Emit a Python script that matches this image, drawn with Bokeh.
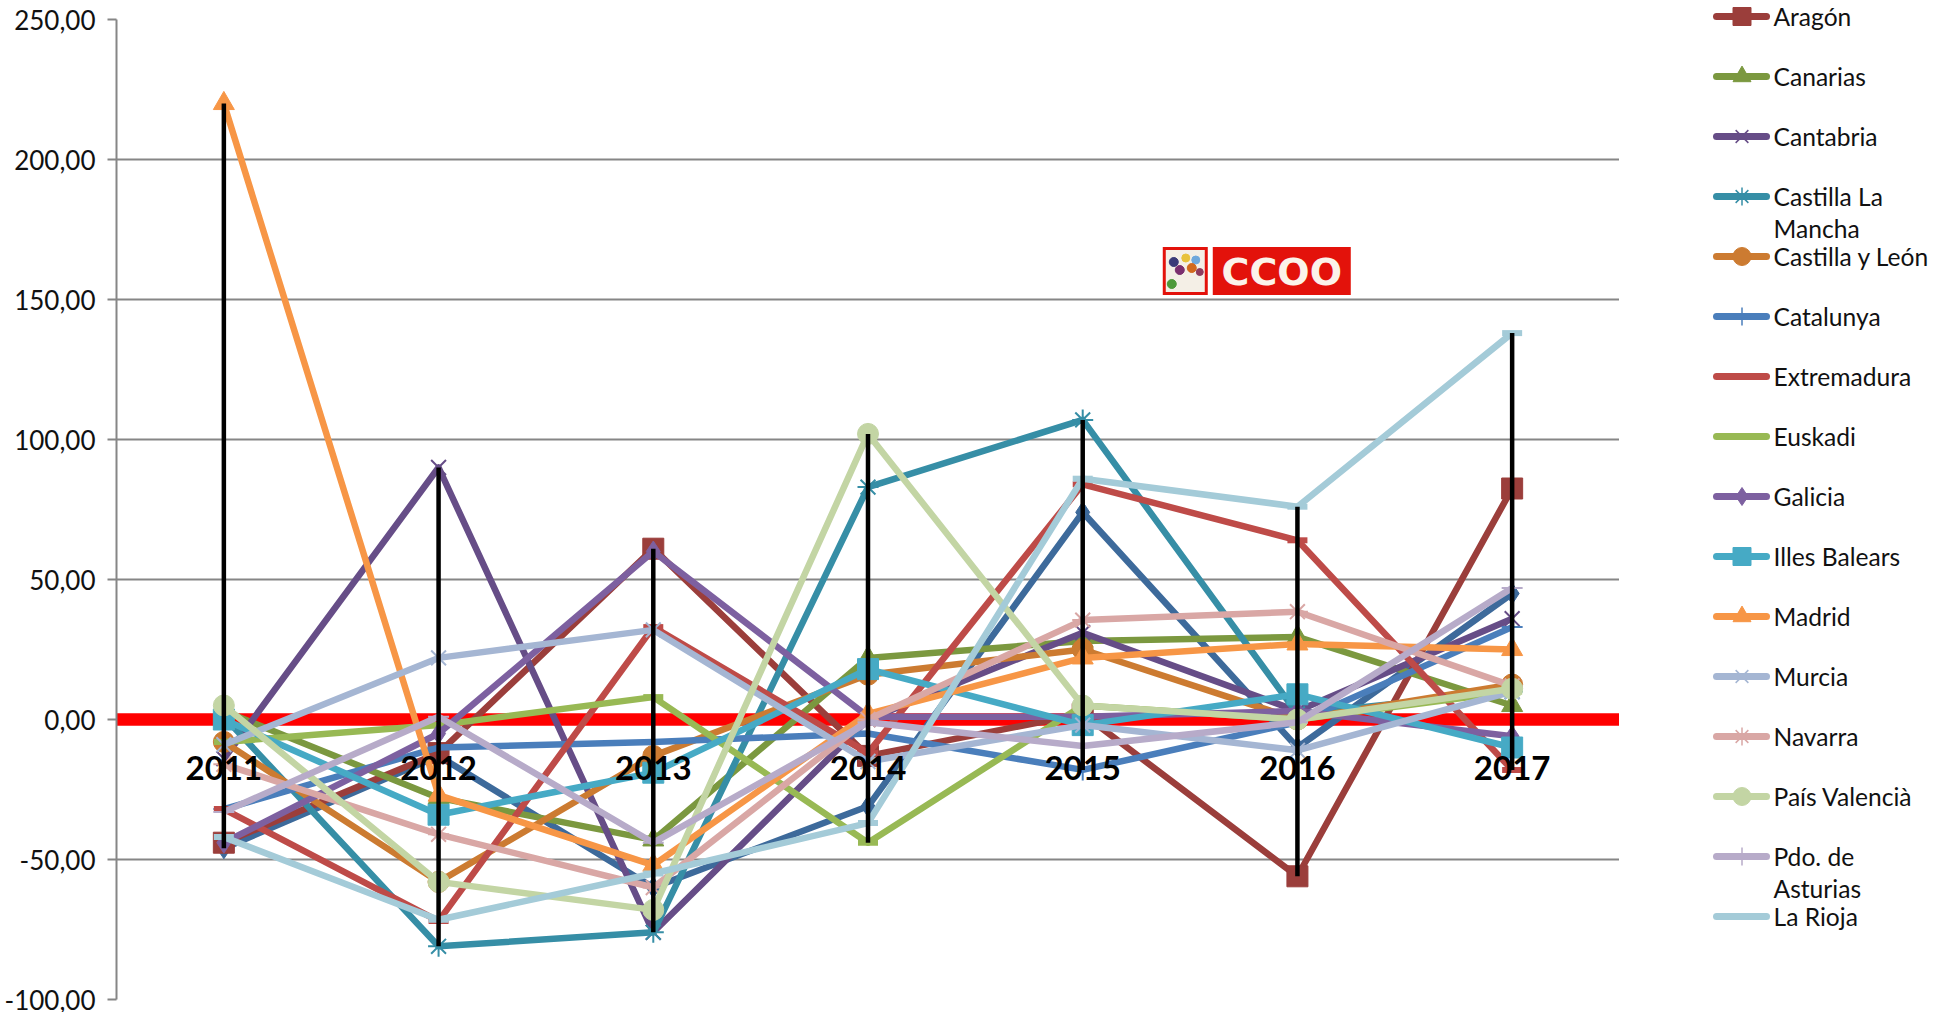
from bokeh.plotting import figure
from bokeh.layouts import row
from bokeh.models import Range1d, FactorRange, ColumnDataSource, FixedTicker
from bokeh.core.properties import value
from bokeh.embed import file_html
from bokeh.resources import INLINE

years = ["2011", "2012", "2013", "2014", "2015", "2016", "2017"]

andalucia = [-46, -13, -60, -31, 74, -10, 45]
aragon = [-44, -12, 61, -13, 2, -56, 82.5]
canarias = [3, -28, -43, 22, 28, 29.5, 5]
cantabria = [-14, 90, -76, 0, 31, 3, 36]
castilla_lm = [1, -81, -76, 83, 107, 2, 10]
castilla_leon = [-8, -58, -13, 16, 25, 0, 12.5]
catalunya = [-32, -10, -8, -5, -18, -1, 33]
extremadura = [-32, -72, 33, -12, 84, 64, -18]
euskadi = [-8, -2, 8, -44, 5, 0, 10]
galicia = [-44, -5, 60, 1, 1, 3, -6]
illes_balears = [0, -34, -19, 18, -2, 9, -10]
madrid = [220, -27, -52, 2, 22, 27, 25]
murcia = [-9, 22, 32, -15, -2, -11, 10]
navarra = [-16, -41, -60, 0, 35.5, 38.5, 12]
pais_valencia = [5, -58, -68, 102, 5, 0, 11]
asturias = [-33, 1, -44, -1, -9.5, -1, 47]
la_rioja = [-42, -71.5, -55, -37, 86, 76, 138]

y_ticks = [-100, -50, 0, 50, 100, 150, 200, 250]
y_tick_labels = ["-100,00", "-50,00", "0,00", "50,00", "100,00", "150,00", "200,00", "250,00"]

# name (legend lines), values, colour, marker
series = [
    (None, andalucia, "#3D6A9B", "diamond"),
    (["Aragón"], aragon, "#9B3E3B", "square"),
    (["Canarias"], canarias, "#7B983F", "triangle"),
    (["Cantabria"], cantabria, "#664D87", "x"),
    (["Castilla La", "Mancha"], castilla_lm, "#368EA6", "asterisk"),
    (["Castilla y León"], castilla_leon, "#CC7B31", "circle"),
    (["Catalunya"], catalunya, "#4A7EBB", "cross"),
    (["Extremadura"], extremadura, "#BE4B48", "dash"),
    (["Euskadi"], euskadi, "#98B954", "dash"),
    (["Galicia"], galicia, "#7D60A0", "diamond"),
    (["Illes Balears"], illes_balears, "#46AAC5", "square"),
    (["Madrid"], madrid, "#F79646", "triangle"),
    (["Murcia"], murcia, "#A5B6D3", "x"),
    (["Navarra"], navarra, "#D9A7A5", "asterisk"),
    (["País Valencià"], pais_valencia, "#C3D5A4", "circle"),
    (["Pdo. de", "Asturias"], asturias, "#B7ABC9", "cross"),
    (["La Rioja"], la_rioja, "#A4CBD8", "dash"),
]

FONT = "Lato"
GREY = "#868686"
OPEN = ("x", "asterisk", "cross")

p = figure(width=1619, height=1012, x_range=FactorRange(factors=years),
           y_range=Range1d(-100, 250), output_backend="svg", toolbar_location=None,
           min_border_left=116, min_border_right=0, min_border_top=19, min_border_bottom=13,
           outline_line_color=None, frame_align=False)

p.xgrid.visible = False
p.ygrid.ticker = FixedTicker(ticks=y_ticks)
p.ygrid.grid_line_color = GREY
p.ygrid.grid_line_width = 2

yax = p.yaxis[0]
yax.ticker = FixedTicker(ticks=y_ticks)
yax.major_label_overrides = {t: l for t, l in zip(y_ticks, y_tick_labels)}
yax.major_label_text_font = FONT
yax.major_label_text_font_size = "26px"
yax.major_label_text_color = "#111111"
yax.major_label_standoff = 12
yax.axis_line_color = GREY
yax.axis_line_width = 2
yax.major_tick_line_color = GREY
yax.major_tick_line_width = 2
yax.major_tick_out = 9
yax.major_tick_in = 0
yax.minor_tick_line_color = None

xax = p.xaxis[0]
xax.fixed_location = 0
xax.axis_line_color = None
xax.major_tick_line_color = None
xax.minor_tick_line_color = None
xax.major_label_text_font = FONT
xax.major_label_text_font_style = "bold"
xax.major_label_text_font_size = "33px"
xax.major_label_text_color = "black"
xax.major_label_standoff = 30

p.hspan(y=[0], line_color="#FF0000", line_width=12.5)

for names, vals, col, mk in series:
    src = ColumnDataSource(dict(x=years, y=vals))
    p.line("x", "y", source=src, line_color=col, line_width=6.5, line_join="round")
    p.scatter("x", "y", source=src, marker=mk, size=21 if mk != "dash" else 20,
              line_color=col, fill_color=col, line_width=2 if mk in OPEN else (6 if mk == "dash" else 1))

allv = [s[1] for s in series]
lows = [min(c) for c in zip(*allv)]
highs = [max(c) for c in zip(*allv)]
p.segment(years, lows, years, highs, line_color="black", line_width=4.5)

# CCOO logo, placed from page pixels onto the frame's synthetic coordinates
def X(v):
    return [(a - 116.8) / 214.7 for a in v]
def Y(v):
    return [(719.5 - a) / 2.8 for a in v]

p.quad(left=X([1213]), right=X([1351]), top=Y([247]), bottom=Y([295]), fill_color="#E3120B", line_color=None)
p.quad(left=X([1163]), right=X([1208]), top=Y([247]), bottom=Y([295]), fill_color="#E3120B", line_color=None)
p.quad(left=X([1166]), right=X([1205]), top=Y([250]), bottom=Y([292]), fill_color="#F4EFE6", line_color=None)
p.scatter(x=X([1174, 1186, 1196, 1180, 1192, 1200, 1172]),
          y=Y([262, 258, 260, 270, 268, 272, 284]),
          size=[9, 8, 8, 9, 9, 7, 9],
          color=["#3A3A78", "#E8C23A", "#6FA8DC", "#7A2E6E", "#D2691E", "#8E3B5E", "#4E9A3A"])
p.text(x=X([1282]), y=Y([272]), text=["CCOO"], text_color="#FBF3EA", text_align="center", text_baseline="middle",
       text_font=value("DejaVu Sans"), text_font_style="bold", text_font_size="38px")

# Legend panel: its own figure whose ranges are page pixels
leg = figure(width=320, height=1005, x_range=Range1d(1620, 1940), y_range=Range1d(1005, 0),
             output_backend="svg", toolbar_location=None, min_border=0, outline_line_color=None,
             frame_align=False)
leg.axis.visible = False
leg.grid.visible = False

LEG_Y0, LEG_DY, LINE_DY = 16, 60, 32
tx, ty, tt = [], [], []
for i, (names, vals, col, mk) in enumerate(series[1:]):
    yy = LEG_Y0 + LEG_DY * i
    leg.line([1717, 1767], [yy, yy], line_color=col, line_width=7, line_cap="round")
    if mk != "dash":
        leg.scatter([1742.5], [yy], marker=mk, size=18, line_color=col, fill_color=col,
                    line_width=1.5 if mk in OPEN else 1)
    for j, t in enumerate(names):
        tx.append(1774)
        ty.append(yy + LINE_DY * j)
        tt.append(t)
leg.text(tx, ty, text=tt, text_font=value(FONT), text_font_size="24.6px", text_color="#111111",
         text_baseline="middle", text_align="left")

out = row(p, leg, spacing=0)
open("out.html", "w").write(file_html(out, INLINE))
